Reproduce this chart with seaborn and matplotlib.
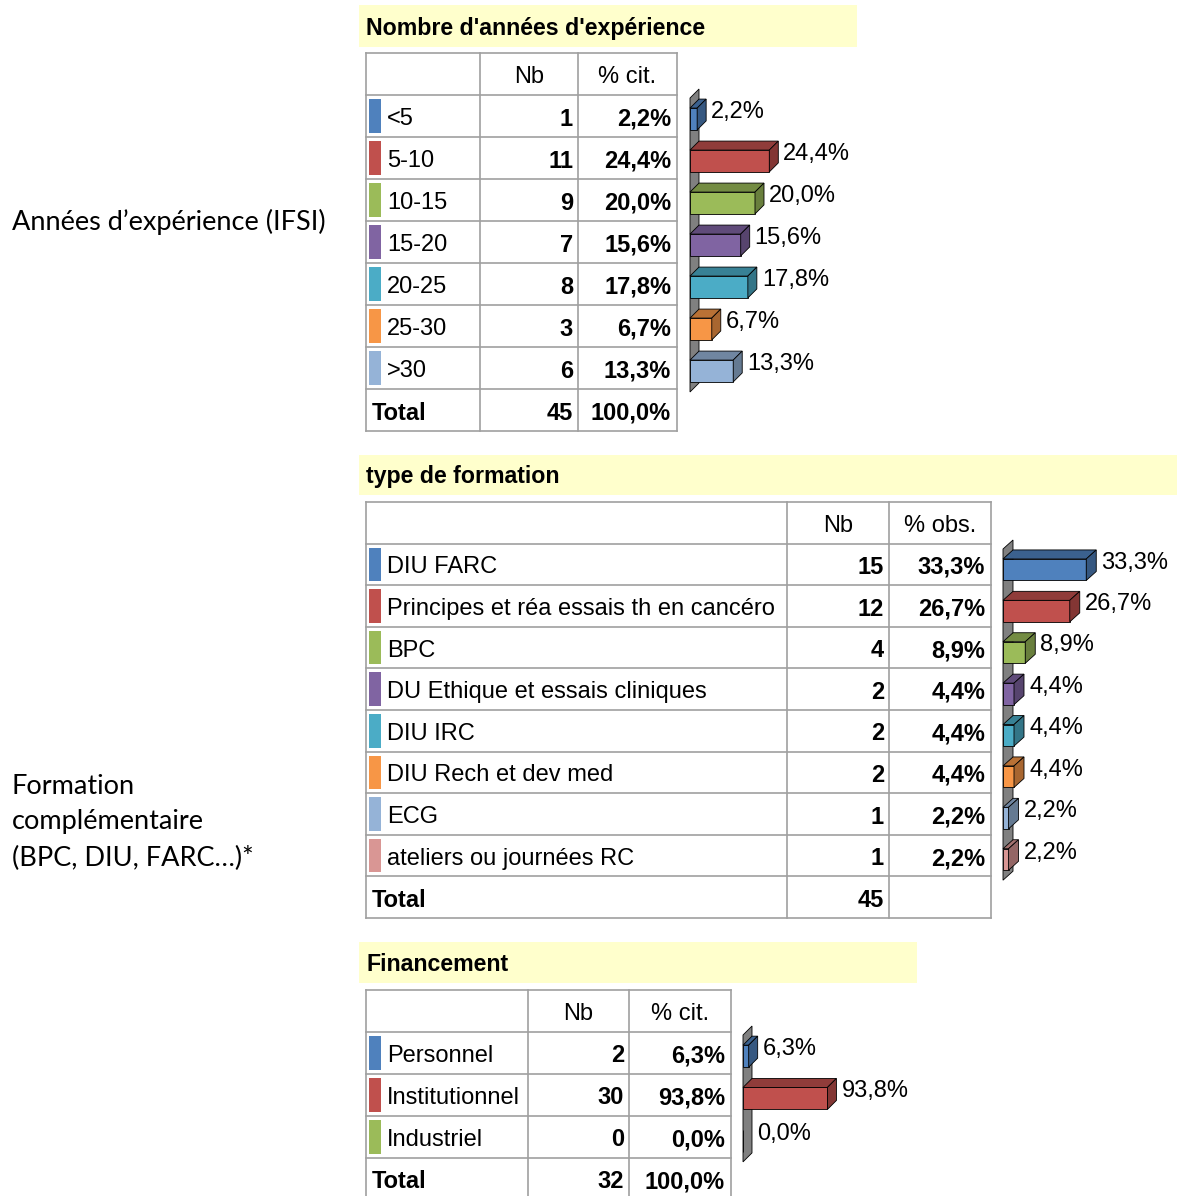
import pandas as pd
import matplotlib
matplotlib.use('Agg')
import matplotlib.pyplot as plt
import seaborn as sns
from matplotlib.patches import Polygon, Rectangle
from matplotlib.colors import to_rgb

W, H = 1179, 1196

# Nombre d'années d'expérience
exp_cats = ['<5', '5-10', '10-15', '15-20', '20-25', '25-30', '>30']
exp_nb = [1, 11, 9, 7, 8, 3, 6]
exp_pct = [2.2, 24.4, 20.0, 15.6, 17.8, 6.7, 13.3]

# type de formation
form_cats = ['DIU FARC', 'Principes et réa essais th en cancéro', 'BPC',
             'DU Ethique et essais cliniques', 'DIU IRC', 'DIU Rech et dev med',
             'ECG', 'ateliers ou journées RC']
form_nb = [15, 12, 4, 2, 2, 2, 1, 1]
form_pct = [33.3, 26.7, 8.9, 4.4, 4.4, 4.4, 2.2, 2.2]

# Financement
fin_cats = ['Personnel', 'Institutionnel', 'Industriel']
fin_nb = [2, 30, 0]
fin_pct = [6.3, 93.8, 0.0]

palette = ['#4F81BD', '#C0504D', '#9BBB59', '#8064A2', '#4BACC6',
           '#F79646', '#95B3D7', '#D99694']

FONT = ['Liberation Sans', 'DejaVu Sans']
FS = 17
GRID = '#A0A0A0'

fig = plt.figure(figsize=(W / 100, H / 100), dpi=100)
bg = fig.add_axes([0, 0, 1, 1])
bg.set_xlim(0, W)
bg.set_ylim(H, 0)
bg.axis('off')


def fmt(v):
    return f'{v:.1f}'.replace('.', ',') + '%'


def shade(c, f):
    r, g, b = to_rgb(c)
    return (r * f, g * f, b * f)


def table(title, tbox, cols, y0, rh, hdr, cats, nbs, pcts, total_nb, total_pct):
    tx0, tx1, ty0, ty1 = tbox
    bg.add_patch(Rectangle((tx0, ty0), tx1 - tx0, ty1 - ty0, color='#FFFFCC', lw=0))
    bg.text(tx0 + 7, (ty0 + ty1) / 2 + 2, title, weight='bold', fontsize=16.7,
            family=FONT, va='center')
    n = len(cats) + 2
    ys = [y0 + i * rh for i in range(n + 1)]
    for y in ys:
        bg.plot([cols[0], cols[-1]], [y, y], color=GRID, lw=1.2)
    for x in cols:
        bg.plot([x, x], [ys[0], ys[-1]], color=GRID, lw=1.2)
    # header
    for j, h in enumerate(hdr):
        bg.text((cols[j + 1] + cols[j + 2]) / 2, ys[0] + rh / 2 + 3, h,
                fontsize=FS, family=FONT, ha='center', va='center')
    for i, (c, nb, p) in enumerate(zip(cats, nbs, pcts)):
        yc = ys[i + 1] + rh / 2
        bg.add_patch(Rectangle((369, ys[i + 1] + 4), 12, rh - 8,
                               color=palette[i], lw=0))
        bg.text(387, yc + 3, c, fontsize=FS, family=FONT, va='center')
        bg.text(cols[2] - 5, yc + 3, str(nb), fontsize=FS, family=FONT,
                weight='bold', ha='right', va='center')
        bg.text(cols[3] - 6, yc + 3, fmt(p), fontsize=FS, family=FONT,
                weight='bold', ha='right', va='center')
    yc = ys[-2] + rh / 2
    bg.text(372, yc + 3, 'Total', fontsize=FS, family=FONT, weight='bold', va='center')
    bg.text(cols[2] - 5, yc + 3, str(total_nb), fontsize=FS, family=FONT,
            weight='bold', ha='right', va='center')
    if total_pct is not None:
        bg.text(cols[3] - 6, yc + 3, total_pct, fontsize=FS, family=FONT,
                weight='bold', ha='right', va='center')


def bars(cats, pcts, x0, y0, rh, ppp, xmax, dx, dy):
    n = len(cats)
    ax = fig.add_axes([x0 / W, 1 - (y0 + n * rh) / H, xmax * ppp / W, n * rh / H])
    df = pd.DataFrame({'cat': cats, 'pct': pcts})
    bw = 0.52
    sns.barplot(data=df, x='pct', y='cat', hue='cat', palette=palette[:n],
                orient='h', width=bw, saturation=1, edgecolor='black',
                linewidth=0.6, legend=False, ax=ax, zorder=2)
    ax.set_xlim(0, xmax)
    ax.set_ylim(n - 0.5, -0.5)
    ax.axis('off')
    ddx, ddy = dx / ppp, dy / rh
    ax.add_patch(Polygon([(0, -0.5), (0, n - 0.5), (ddx, n - 0.5 - ddy),
                          (ddx, -0.5 - ddy)], closed=True, fc='#808080',
                         ec='black', lw=0.6, zorder=1, clip_on=False))
    for i, v in enumerate(pcts):
        col = palette[i]
        yt, yb = i - bw / 2, i + bw / 2
        if v > 0:
            ax.add_patch(Polygon([(0, yt), (v, yt), (v + ddx, yt - ddy), (ddx, yt - ddy)],
                                 closed=True, fc=shade(col, 0.75), ec='black',
                                 lw=0.6, zorder=3, clip_on=False))
            ax.add_patch(Polygon([(v, yt), (v, yb), (v + ddx, yb - ddy), (v + ddx, yt - ddy)],
                                 closed=True, fc=shade(col, 0.68), ec='black',
                                 lw=0.6, zorder=3, clip_on=False))
        ax.text(v + ddx + 5 / ppp, i - 7 / rh, fmt(v), fontsize=FS, family=FONT,
                va='center', ha='left', clip_on=False)


# section 1
table("Nombre d'années d'expérience", (359, 857, 5, 47), [366, 480, 578, 677],
      53, 42, ['Nb', '% cit.'], exp_cats, exp_nb, exp_pct, 45, '100,0%')
bars(exp_cats, exp_pct, 690, 98, 42, 3.25, 30, 9, 9)

# section 2
table('type de formation', (359, 1177, 455, 495), [366, 787, 889, 991],
      502, 41.6, ['Nb', '% obs.'], form_cats, form_nb, form_pct, 45, None)
bars(form_cats, form_pct, 1003, 549, 41.4, 2.5, 40, 10, 9)

# section 3
table('Financement', (359, 917, 942, 983), [366, 528, 629, 731],
      990, 42, ['Nb', '% cit.'], fin_cats, fin_nb, fin_pct, 32, '100,0%')
bars(fin_cats, fin_pct, 743, 1035, 42.3, 0.9, 100, 9, 9)

# left labels
bg.text(12, 222, 'Années d’expérience (IFSI)', family=['Lato', 'DejaVu Sans'],
        fontsize=19.5, va='center')
for k, line in enumerate(['Formation', 'complémentaire', '(BPC, DIU, FARC…)*']):
    bg.text(12, 786 + 36 * k, line, family=['Lato', 'DejaVu Sans'],
            fontsize=19.5, va='center')

fig.savefig('out.png', dpi=100)
